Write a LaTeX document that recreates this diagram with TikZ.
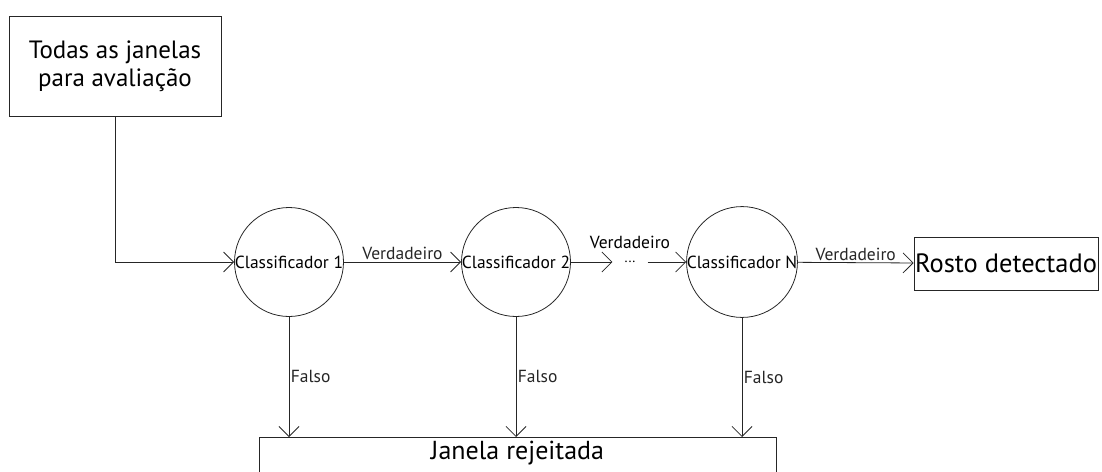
\documentclass[tikz,border=0pt]{standalone}
\usepackage{fontspec}
\setmainfont{PT Sans}
\usetikzlibrary{arrows.meta,positioning}

\begin{document}
\begin{tikzpicture}[x=1pt, y=-1pt,
    every node/.style={font=\fontsize{17.5}{20}\selectfont},
    linha/.style={black!85, line width=0.8pt},
    seta/.style={linha, -{Straight Barb[length=10pt,width=20pt,line width=0.8pt]}},
    caixa/.style={draw=black!85, line width=0.8pt, inner sep=0pt},
    classif/.style={draw=black!85, line width=0.8pt, circle, minimum size=109pt, inner sep=0pt},
    rotulo/.style={inner sep=1.5pt}]
  \useasboundingbox (0,0) rectangle (1102,471);
  % --- entrada ---
  \node[caixa, minimum width=212pt, minimum height=100pt, align=center,
        font=\fontsize{25}{28}\selectfont] (todas) at (115,66)
        {Todas as janelas\\para avaliação};
  % --- cascata de classificadores ---
  \node[classif] (c1) at (289,262) {Classificador 1};
  \node[classif] (c2) at (516,262) {Classificador 2};
  \node[inner xsep=12pt, inner ysep=1pt, font=\fontsize{14}{16}\selectfont] (dots) at (630,262) {...};
  \node[classif] (cN) at (742,262) {Classificador N};
  % --- saidas ---
  \node[caixa, minimum width=184pt, minimum height=53pt,
        font=\fontsize{26.5}{30}\selectfont] (rosto) at (1006,263.5) {Rosto detectado};
  \node[caixa, minimum width=517pt, minimum height=46pt, anchor=north,
        font=\fontsize{26}{30}\selectfont, text depth=20pt] (rejeitada) at (517.5,437) {Janela rejeitada};
  % --- conexoes ---
  \draw[seta] (todas.south) |- (c1.west);
  \draw[seta] (c1) -- node[rotulo, above] {Verdadeiro} (c2);
  \draw[seta] (c2) -- (dots);
  \node[rotulo, above=12pt of dots.center] (v2) {Verdadeiro};
  \draw[seta] (dots) -- (cN);
  \draw[seta] (cN) -- node[rotulo, above] {Verdadeiro} (rosto);
  \foreach \c in {c1, c2, cN}{
    \draw[seta] (\c) -- node[rotulo, right] {Falso} (\c |- rejeitada.north);
  }
\end{tikzpicture}
\end{document}
